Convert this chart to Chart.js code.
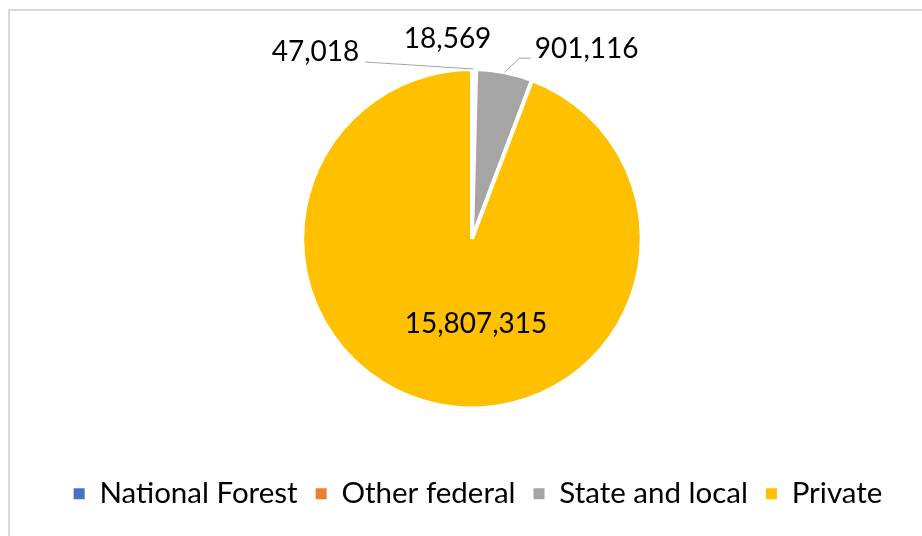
<!DOCTYPE html>
<html>
<head>
<meta charset="utf-8">
<script src="https://cdn.jsdelivr.net/npm/chart.js@4"></script>
<style>
  html, body { margin: 0; padding: 0; background: #fff; }
  #wrap { position: relative; width: 922px; height: 536px; }
</style>
</head>
<body>
<div id="wrap"><canvas id="ownershipChart"></canvas></div>
<script>
// acres by owner class
const owners = ['National Forest', 'Other federal', 'State and local', 'Private'];
const acres = [47018, 18569, 901116, 15807315];
const sliceColors = ['#4472C4', '#ED7D31', '#A5A5A5', '#FFC000'];

const fontFamily = 'Lato, "Open Sans", sans-serif';
const valueFontSize = 28;
const legendFontSize = 29.5;
const leaderColor = '#A6A6A6';
const frameColor = '#D9D9D9';

// value label offsets: 'rim' = from the slice's outer edge at mid angle, 'centre' = from pie centre
const labelPlacement = [
    { from: 'rim', dx: -158, dy: -17, leader: 'line' },
    { from: 'rim', dx: -28, dy: -30, leader: 'none' },
    { from: 'rim', dx: 82, dy: -23, leader: 'elbow' },
    { from: 'centre', dx: 4, dy: 85, leader: 'none' },
];

// light frame along the top and left edge
const framePlugin = {
    id: 'frame',
    beforeDraw(chart) {
        const ctx = chart.ctx;
        ctx.save();
        ctx.fillStyle = '#fff';
        ctx.fillRect(0, 0, chart.width, chart.height);
        ctx.strokeStyle = frameColor;
        ctx.lineWidth = 2;
        ctx.beginPath();
        ctx.moveTo(9, chart.height + 2);
        ctx.lineTo(9, 10);
        ctx.lineTo(chart.width + 2, 10);
        ctx.stroke();
        ctx.restore();
    }
};

// move the legend row down and slightly right of the pie's centre line
const legendPlacement = {
    id: 'legendPlacement',
    afterLayout(chart) {
        const lg = chart.legend;
        const h = lg.bottom - lg.top;
        lg.top = 461;
        lg.bottom = lg.top + h;
        lg.left += 6;
        lg.right += 6;
    }
};

// value labels with leader lines
const valueLabels = {
    id: 'valueLabels',
    afterDatasetsDraw(chart) {
        const ctx = chart.ctx;
        const arcs = chart.getDatasetMeta(0).data;
        ctx.save();
        ctx.font = `${valueFontSize}px ${fontFamily}`;
        ctx.fillStyle = '#000';
        ctx.textAlign = 'center';
        ctx.textBaseline = 'middle';
        ctx.strokeStyle = leaderColor;
        ctx.lineWidth = 1;
        arcs.forEach((arc, i) => {
            const p = labelPlacement[i];
            const mid = (arc.startAngle + arc.endAngle) / 2;
            const rimX = arc.x + Math.cos(mid) * arc.outerRadius;
            const rimY = arc.y + Math.sin(mid) * arc.outerRadius;
            const ax = p.from === 'rim' ? rimX : arc.x;
            const ay = p.from === 'rim' ? rimY : arc.y;
            const lx = ax + p.dx, ly = ay + p.dy;
            const text = acres[i].toLocaleString('en-US');
            const w = ctx.measureText(text).width;
            if (p.leader === 'line') {
                ctx.beginPath();
                ctx.moveTo(rimX, rimY);
                ctx.lineTo(lx + w / 2 + 6, ly + 10);
                ctx.stroke();
            } else if (p.leader === 'elbow') {
                const ex = lx - w / 2 - 4, ey = ly + 9;
                ctx.beginPath();
                ctx.moveTo(rimX, rimY);
                ctx.lineTo(ex - 11, ey);
                ctx.lineTo(ex, ey);
                ctx.stroke();
            }
            ctx.fillText(text, lx, ly);
        });
        ctx.restore();
    }
};

const pieLegendLabels = Chart.overrides.pie.plugins.legend.labels.generateLabels;

new Chart(document.getElementById('ownershipChart'), {
    type: 'pie',
    data: {
        labels: owners,
        datasets: [{
            data: acres,
            backgroundColor: sliceColors,
            borderColor: '#fff',
            borderWidth: 4,
            hoverOffset: 0,
        }]
    },
    options: {
        responsive: true,
        maintainAspectRatio: false,
        animation: false,
        layout: { padding: { top: 67, bottom: 68, left: 22, right: 0 } },
        plugins: {
            legend: {
                position: 'bottom',
                labels: {
                    color: '#000',
                    font: { family: fontFamily, size: legendFontSize },
                    boxWidth: 11,
                    boxHeight: 11,
                    padding: 18,
                    // plain filled squares, no white slice border
                    generateLabels(chart) {
                        return pieLegendLabels(chart).map(item => ({ ...item, lineWidth: 0 }));
                    }
                }
            },
            tooltip: { enabled: false },
        }
    },
    plugins: [framePlugin, legendPlacement, valueLabels]
});
</script>
</body>
</html>
